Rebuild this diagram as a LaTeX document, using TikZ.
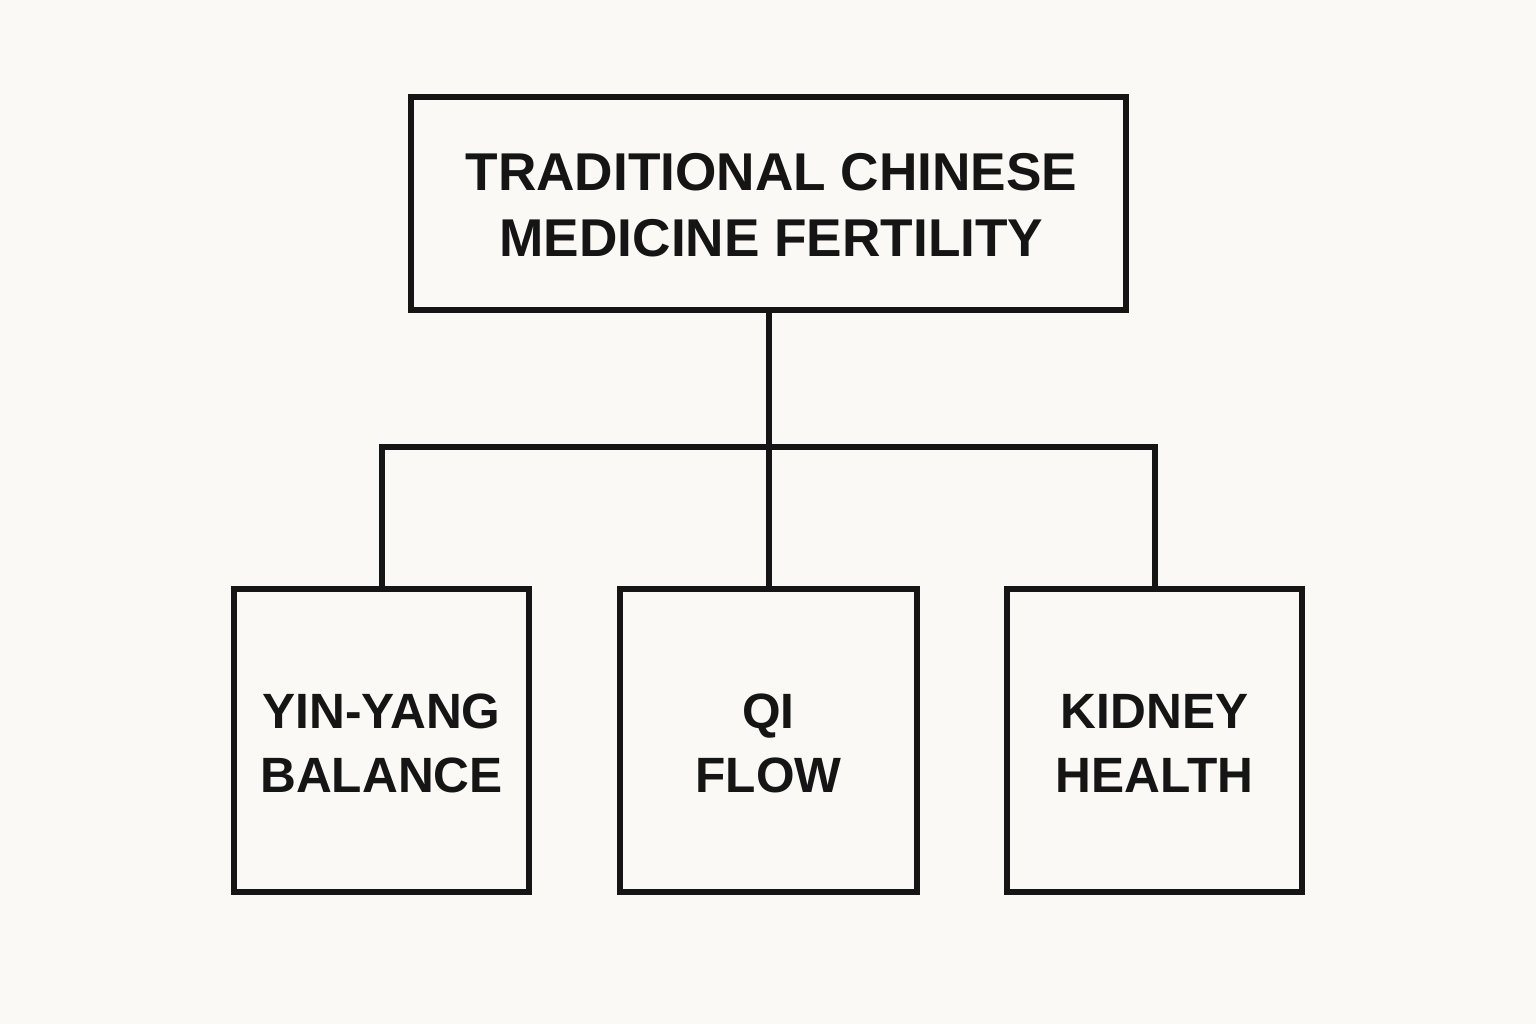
\documentclass[tikz,border=0pt]{standalone}
\usepackage{fontspec}
\setmainfont{Liberation Sans}
\definecolor{bg}{HTML}{FAF9F5}
\definecolor{ink}{HTML}{151515}
\begin{document}
\begin{tikzpicture}[x=0.5pt,y=-0.5pt,
  box/.style={draw=ink,line width=3pt,line join=miter,inner sep=0pt},
  lbl/.style={font=\fontsize{26.6}{33}\selectfont\bfseries,text=ink,align=center},
  sublbl/.style={font=\fontsize{24.8}{32}\selectfont\bfseries,text=ink,align=center},
  conn/.style={draw=ink,line width=3pt}]
\fill[bg] (0,0) rectangle (1536,1024);
\useasboundingbox (0,0) rectangle (1536,1024);
\node[box,minimum width=357.5pt,minimum height=106.5pt] (top) at (768.5,203.5) {};
\node[lbl] at ([xshift=1.5pt,yshift=-1pt]top.center) {TRADITIONAL CHINESE\\MEDICINE FERTILITY};
\node[box,minimum width=147.5pt,minimum height=151.5pt] (yy) at (381.5,740.5) {};
\node[box,minimum width=148.5pt,minimum height=151.5pt] (qi) at (768.5,740.5) {};
\node[box,minimum width=147.5pt,minimum height=151.5pt] (kd) at (1154.5,740.5) {};
\node[sublbl] at ([yshift=-1.5pt]yy.center) {YIN-YANG\\BALANCE};
\node[sublbl] at ([yshift=-1.5pt]qi.center) {QI\\FLOW};
\node[sublbl] at ([yshift=-1.5pt]kd.center) {KIDNEY\\HEALTH};
\coordinate (j) at (768.5,447);
\draw[conn] (top.south) -- (qi.north);
\draw[conn,line join=miter] (yy.north) |- (j) -| (kd.north);
\end{tikzpicture}
\end{document}
